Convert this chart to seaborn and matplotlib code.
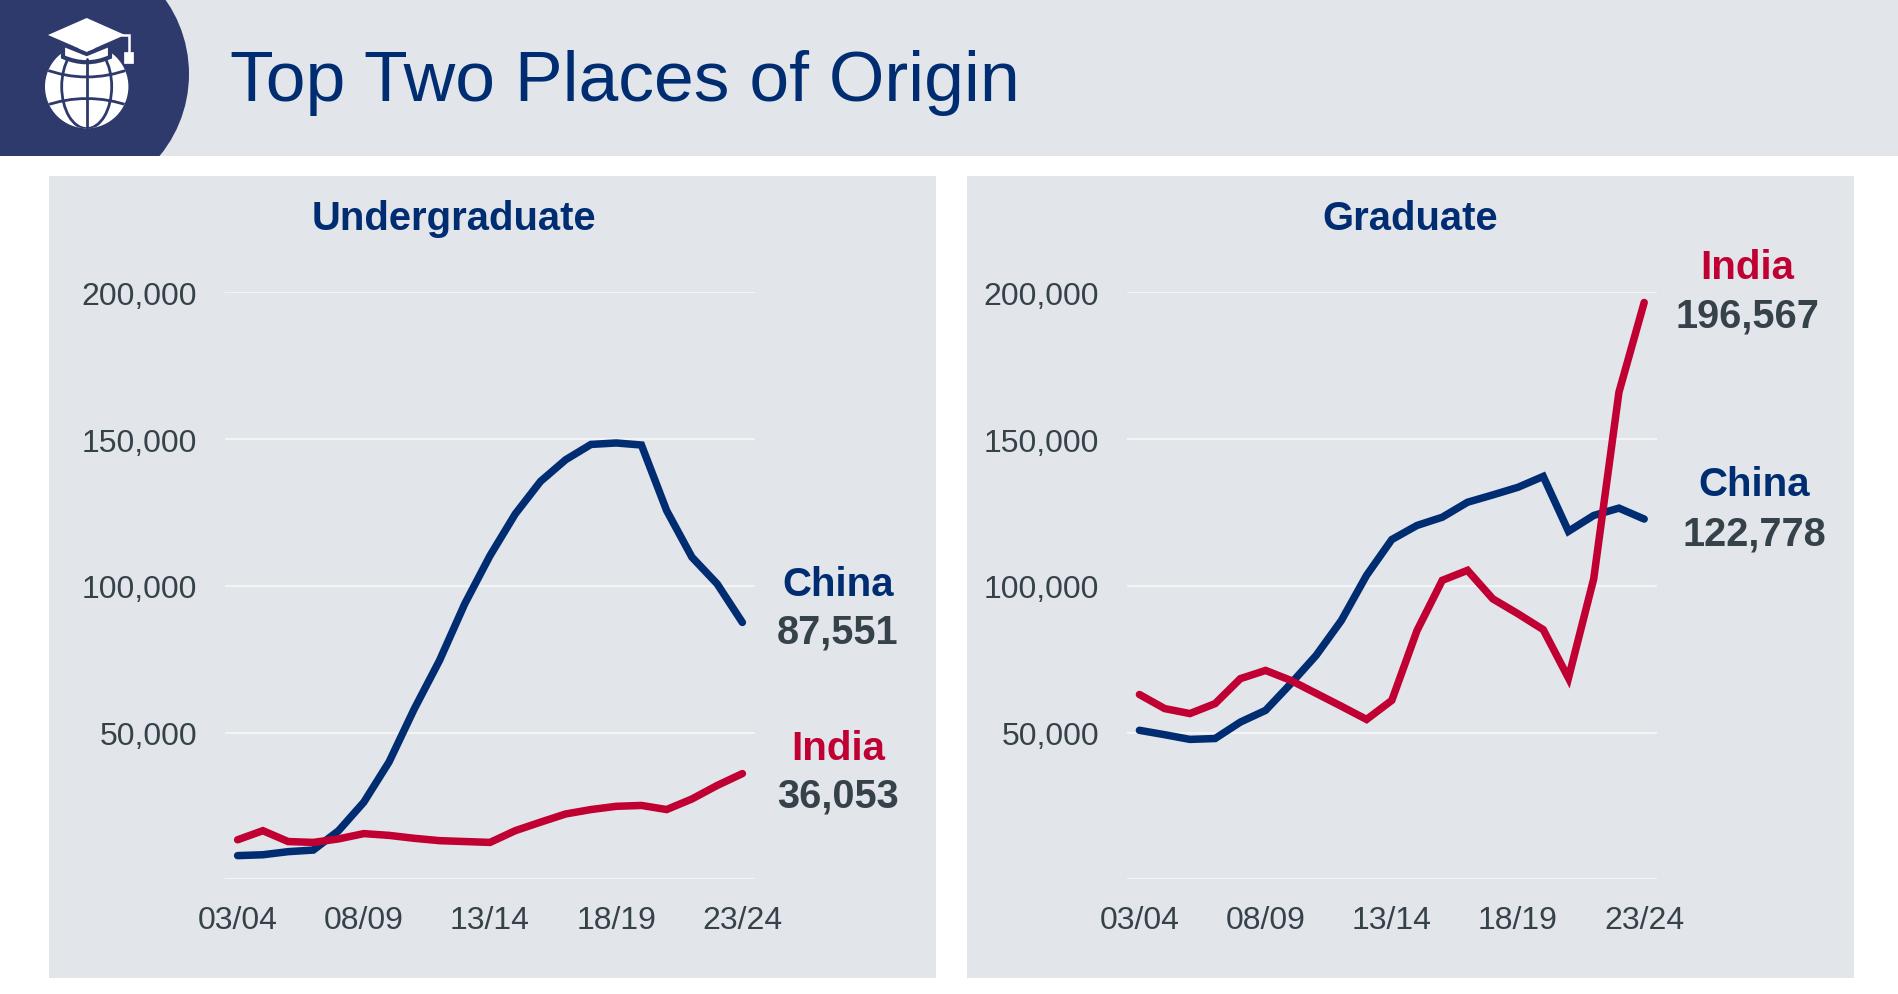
import matplotlib
matplotlib.use("Agg")
import matplotlib.pyplot as plt
import pandas as pd
import seaborn as sns
from matplotlib.patches import Circle, Ellipse, PathPatch, Polygon, Rectangle
from matplotlib.path import Path

years = ["03/04", "04/05", "05/06", "06/07", "07/08", "08/09", "09/10", "10/11", "11/12", "12/13", "13/14",
         "14/15", "15/16", "16/17", "17/18", "18/19", "19/20", "20/21", "21/22", "22/23", "23/24"]
tick_years = ["03/04", "08/09", "13/14", "18/19", "23/24"]
y_ticks = [0, 50000, 100000, 150000, 200000]

ug_china = [8100, 8400, 9450, 10000, 16600, 26300, 40000, 58100, 74600, 93900, 110300,
            124500, 135600, 143000, 148200, 148700, 148000, 125650, 109800, 100700, 87551]
ug_india = [13500, 16600, 12900, 12600, 13800, 15600, 15000, 14000, 13200, 12900, 12600,
            16600, 19500, 22300, 23800, 24900, 25200, 23800, 27400, 32000, 36053]
grad_china = [50800, 49300, 47700, 48000, 53600, 57600, 66700, 76300, 88200, 103600, 115800,
              120600, 123400, 128500, 131000, 133600, 137300, 118600, 124000, 126500, 122778]
grad_india = [63000, 58200, 56500, 59900, 68400, 71200, 67800, 63400, 59000, 54500, 61000,
              84800, 101900, 105300, 95600, 90500, 85100, 68600, 102400, 166000, 196567]

NAVY = "#002D72"
RED = "#C00032"
GRAY = "#36424A"
PANEL = "#E2E5EA"
BADGE = "#2E3A6C"
GRID = "#F5F6F8"
W, H = 1899, 995

sns.set_theme(style="white")
plt.rcParams["font.family"] = ["Liberation Sans", "DejaVu Sans"]

fig = plt.figure(figsize=(W / 100, H / 100), dpi=100, facecolor="white")

# background layer in pixel coordinates
bg = fig.add_axes([0, 0, 1, 1], zorder=0)
bg.set_xlim(0, W)
bg.set_ylim(H, 0)
bg.axis("off")
bg.add_patch(Rectangle((0, 0), W, 157, fc=PANEL, ec="none"))
bg.add_patch(Rectangle((49, 177), 887, 802, fc=PANEL, ec="none"))
bg.add_patch(Rectangle((967, 177), 887, 802, fc=PANEL, ec="none"))

header_clip = Rectangle((0, 0), W, 157, transform=bg.transData)
badge = Circle((60, 75), 129, fc=BADGE, ec="none")
bg.add_patch(badge)
badge.set_clip_path(header_clip)


def curve(a, b, c):
    return PathPatch(Path([a, b, c], [Path.MOVETO, Path.CURVE3, Path.CURVE3]), fc="none", ec=BADGE, lw=2.0)


# globe + grad cap
bg.add_patch(Circle((86.7, 87.6), 41.7, fc="white", ec="none"))
globe_clip = Circle((86.7, 87.6), 41.7, transform=bg.transData)
for part in [Ellipse((86.7, 87.6), 50, 84, fc="none", ec=BADGE, lw=2.0),
             curve((44, 70), (86.7, 86), (130, 70)),
             curve((44, 107), (86.7, 92), (130, 107))]:
    bg.add_patch(part)
    part.set_clip_path(globe_clip)
bg.plot([86.7, 86.7], [60, 131], color=BADGE, lw=2.0)
body = Path([(63, 45.5), (63, 58), (86.7, 68.5), (110, 58), (110, 45.5), (86.7, 55), (63, 45.5)],
            [Path.MOVETO, Path.LINETO, Path.CURVE3, Path.CURVE3, Path.LINETO, Path.LINETO, Path.CLOSEPOLY])
bg.add_patch(PathPatch(body, fc="white", ec=BADGE, lw=3.0))
bg.add_patch(Polygon([(86.7, 19), (48, 36), (86.7, 52.7), (125, 36)], fc="white", ec="none"))
bg.plot([122, 129.5, 129.5], [35.5, 35.5, 54], color="white", lw=1.8, solid_joinstyle="miter")
bg.add_patch(Rectangle((124, 53), 9.5, 10.5, fc="white", ec="white", lw=0.5))


def put_text(x, y, s, color, size, weight="bold", ha="center"):
    fig.text(x / W, 1 - y / H, s, color=color, fontsize=size, fontweight=weight, ha=ha, va="baseline")


def draw_panel(left, china, india):
    ax = fig.add_axes([left / W, 1 - 880.4 / H, 530 / W, 587 / H], zorder=1)
    ax.patch.set_alpha(0)
    df = pd.DataFrame({"year": years * 2,
                       "students": china + india,
                       "place": ["China"] * len(years) + ["India"] * len(years)})
    ax.set_axisbelow(True)
    sns.lineplot(data=df, x="year", y="students", hue="place", palette={"China": NAVY, "India": RED},
                 linewidth=5.4, legend=False, ax=ax, solid_capstyle="round", solid_joinstyle="miter")
    ax.set_xlim(-0.5, len(years) - 0.5)
    ax.set_ylim(0, 200000)
    ax.set_xlabel("")
    ax.set_ylabel("")
    ax.set_xticks([years.index(t) for t in tick_years])
    ax.set_xticklabels(tick_years)
    ax.set_yticks(y_ticks)
    ax.set_yticklabels(["" if v == 0 else f"{v:,}" for v in y_ticks])
    ax.tick_params(axis="x", length=0, pad=18.5, labelsize=23, labelcolor=GRAY)
    ax.tick_params(axis="y", length=0, pad=20, labelsize=23, labelcolor=GRAY)
    ax.grid(axis="y", color=GRID, linewidth=1.3)
    ax.grid(axis="x", visible=False)
    for sp in ax.spines.values():
        sp.set_visible(False)
    for ln in ax.lines:
        ln.set_clip_on(False)
    return ax


draw_panel(225, ug_china, ug_india)
draw_panel(1126.8, grad_china, grad_india)

put_text(230, 100.5, "Top Two Places of Origin", NAVY, 51.45, weight="normal", ha="left")
put_text(454, 230, "Undergraduate", NAVY, 28.8)
put_text(1410, 230, "Graduate", NAVY, 28.8)

put_text(838.5, 595.5, "China", NAVY, 29)
put_text(838, 644, f"{ug_china[-1]:,}", GRAY, 28.6)
put_text(838, 760, "India", RED, 29)
put_text(838.5, 808, f"{ug_india[-1]:,}", GRAY, 28.6)
put_text(1747, 279, "India", RED, 29)
put_text(1747.5, 328, f"{grad_india[-1]:,}", GRAY, 28.6)
put_text(1754, 496, "China", NAVY, 29)
put_text(1754.5, 545, f"{grad_china[-1]:,}", GRAY, 28.6)

fig.savefig("out.png", dpi=100, facecolor="white")
